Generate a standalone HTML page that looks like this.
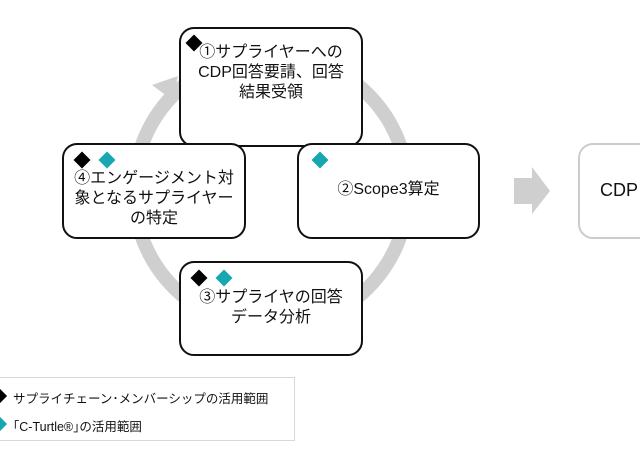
<!DOCTYPE html>
<html><head><meta charset="utf-8"><style>
body{margin:0;width:640px;height:453px;background:#fff;position:relative;overflow:hidden;font-family:"Liberation Sans","Noto Sans CJK JP",sans-serif;color:#111}
.b{position:absolute;box-sizing:border-box;border:2px solid #111;border-radius:15px;background:#fff}
.t{position:absolute;left:0;right:0;text-align:center;font-size:16px;line-height:20px}
.d{position:absolute;width:12px;height:12px;transform:rotate(45deg)}
.k{background:#000}.c{background:#17a7b2}
.lg{position:absolute;font-size:12.5px;left:13px}
</style></head><body>
<svg width="640" height="453" style="position:absolute;left:0;top:0">
<circle cx="271" cy="191" r="137" fill="none" stroke="#cfcfcf" stroke-width="14"/>
<polygon points="152,85 178,76 172,100" fill="#cfcfcf"/>
<polygon points="514,178 532,178 532,167 550,191 532,214 532,204 514,204" fill="#cfcfcf"/>
</svg>
<div class="b" style="left:179px;top:27px;width:184px;height:120px">
<div class="d k" style="left:7px;top:8px"></div>
<div class="t" style="top:14px">①サプライヤーへの<br>CDP回答要請、回答<br>結果受領</div></div>
<div class="b" style="left:297px;top:143px;width:183px;height:96px">
<div class="d c" style="left:15px;top:9px"></div>
<div class="t" style="top:35px">②Scope3算定</div></div>
<div class="b" style="left:62px;top:143px;width:184px;height:96px">
<div class="d k" style="left:12px;top:9px"></div><div class="d c" style="left:37px;top:9px"></div>
<div class="t" style="top:24px">④エンゲージメント対<br>象となるサプライヤー<br>の特定</div></div>
<div class="b" style="left:179px;top:261px;width:184px;height:95px">
<div class="d k" style="left:12px;top:9px"></div><div class="d c" style="left:37px;top:9px"></div>
<div class="t" style="top:25px">③サプライヤの回答<br>データ分析</div></div>
<div class="b" style="left:578px;top:143px;width:100px;height:96px;border-color:#ccc">
<div style="position:absolute;left:20px;top:35px;font-size:18px">CDP</div></div>
<div style="position:absolute;left:-2px;top:377px;width:297px;height:64px;box-sizing:border-box;border:1px solid #d8d8d8"></div>
<div class="d k" style="left:-5px;top:391px;width:10px;height:10px"></div>
<div class="lg" style="top:388px">サプライチェーン･メンバーシップの活用範囲</div>
<div class="d c" style="left:-5px;top:419px;width:10px;height:10px"></div>
<div class="lg" style="top:416px">｢C-Turtle®｣の活用範囲</div>
</body></html>
